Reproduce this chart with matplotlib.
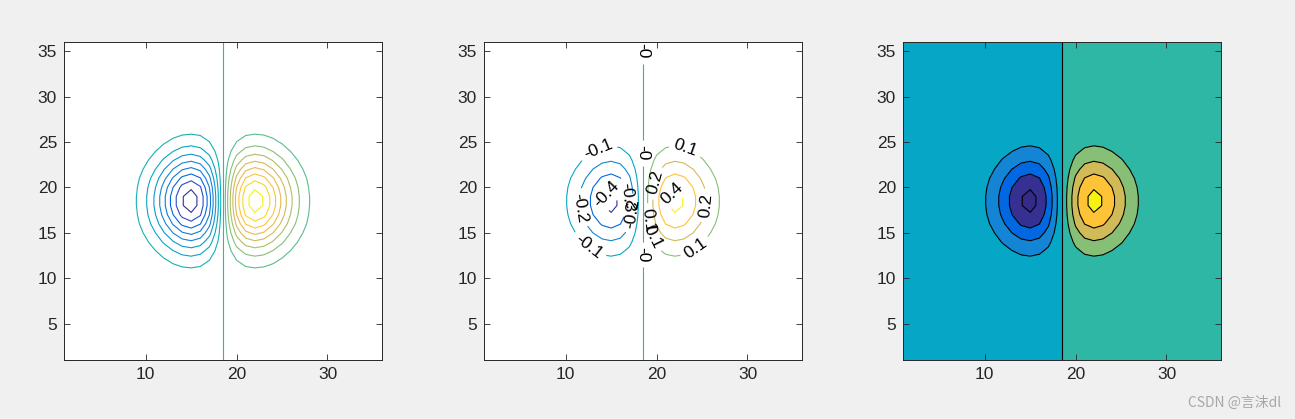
import numpy as np
import matplotlib.pyplot as plt
from matplotlib.colors import LinearSegmentedColormap, Normalize

# grid used for the surface (36 x 36 samples)
x_vals = np.linspace(-3.5, 3.5, 36)
y_vals = np.linspace(-3.5, 3.5, 36)
X, Y = np.meshgrid(x_vals, y_vals)
Z = X * np.exp(-X**2 - Y**2)
idx = np.arange(1, 37)

levels_fine = np.round(np.arange(-0.40, 0.401, 0.05), 2)
levels_coarse = np.round(np.arange(-0.4, 0.401, 0.1), 1)

# label positions picked off the middle panel
label_pos = [(13.6, 24.1), (12.4, 13.3), (11.4, 17.7), (14.7, 18.9), (16.2, 18.9),
             (17.4, 17.1), (18.5, 35.0), (18.5, 23.8), (18.3, 12.6),
             (19.9, 20.5), (21.8, 19.2), (19.3, 16.4), (19.3, 14.6),
             (23.0, 23.9), (24.3, 13.3), (25.7, 18.0)]

# matlab parula, 64 entries
parula_tab = [
    (0.2081, 0.1663, 0.5292), (0.2116, 0.1898, 0.5777), (0.2123, 0.2138, 0.6270), (0.2081, 0.2386, 0.6771),
    (0.1959, 0.2645, 0.7279), (0.1707, 0.2919, 0.7792), (0.1253, 0.3242, 0.8303), (0.0591, 0.3598, 0.8683),
    (0.0117, 0.3875, 0.8820), (0.0060, 0.4086, 0.8828), (0.0165, 0.4266, 0.8786), (0.0329, 0.4430, 0.8720),
    (0.0498, 0.4586, 0.8641), (0.0629, 0.4737, 0.8554), (0.0723, 0.4887, 0.8467), (0.0779, 0.5040, 0.8384),
    (0.0793, 0.5200, 0.8312), (0.0749, 0.5375, 0.8263), (0.0641, 0.5570, 0.8240), (0.0488, 0.5772, 0.8228),
    (0.0343, 0.5966, 0.8199), (0.0265, 0.6137, 0.8135), (0.0239, 0.6287, 0.8038), (0.0231, 0.6418, 0.7913),
    (0.0228, 0.6535, 0.7768), (0.0267, 0.6642, 0.7607), (0.0384, 0.6743, 0.7436), (0.0590, 0.6838, 0.7254),
    (0.0843, 0.6928, 0.7062), (0.1133, 0.7015, 0.6859), (0.1453, 0.7098, 0.6646), (0.1801, 0.7177, 0.6424),
    (0.2178, 0.7250, 0.6193), (0.2586, 0.7317, 0.5954), (0.3022, 0.7376, 0.5712), (0.3482, 0.7424, 0.5473),
    (0.3953, 0.7459, 0.5244), (0.4420, 0.7481, 0.5033), (0.4871, 0.7491, 0.4840), (0.5300, 0.7491, 0.4661),
    (0.5709, 0.7485, 0.4494), (0.6099, 0.7473, 0.4337), (0.6473, 0.7456, 0.4188), (0.6834, 0.7435, 0.4044),
    (0.7184, 0.7411, 0.3905), (0.7525, 0.7384, 0.3768), (0.7858, 0.7356, 0.3633), (0.8185, 0.7327, 0.3498),
    (0.8507, 0.7299, 0.3360), (0.8824, 0.7274, 0.3217), (0.9139, 0.7258, 0.3063), (0.9450, 0.7261, 0.2886),
    (0.9739, 0.7314, 0.2666), (0.9938, 0.7455, 0.2403), (0.9990, 0.7653, 0.2164), (0.9955, 0.7861, 0.1967),
    (0.9880, 0.8066, 0.1794), (0.9789, 0.8271, 0.1633), (0.9697, 0.8481, 0.1475), (0.9626, 0.8705, 0.1309),
    (0.9589, 0.8949, 0.1132), (0.9598, 0.9218, 0.0948), (0.9661, 0.9514, 0.0755), (0.9763, 0.9831, 0.0538)]
parula = LinearSegmentedColormap.from_list("parula", parula_tab, N=64)
norm = Normalize(vmin=Z.min(), vmax=Z.max())

plt.rcParams['font.family'] = ['Liberation Sans', 'DejaVu Sans']
plt.rcParams['contour.negative_linestyle'] = 'solid'
fig = plt.figure(figsize=(12.95, 4.19), dpi=100, facecolor='#f0f0f0')
lefts = [64, 484, 903]
axes = [fig.add_axes([l / 1295, 59 / 419, 318 / 1295, 318 / 419]) for l in lefts]

for ax in axes:
    ax.set_xlim(1, 36)
    ax.set_ylim(1, 36)
    ax.set_xticks([10, 20, 30])
    ax.set_yticks([5, 10, 15, 20, 25, 30, 35])
    ax.tick_params(direction='in', top=True, right=True, labelsize=12.5,
                   colors='#262626', length=4, width=0.6, pad=5)
    for s in ax.spines.values():
        s.set_color('#262626')
        s.set_linewidth(0.7)
    ax.set_facecolor('white')

# left: plain contour lines
axes[0].contour(idx, idx, Z, levels=levels_fine,
                colors=[parula(norm(v)) for v in levels_fine], linewidths=0.8)

# middle: labelled contour lines
cs = axes[1].contour(idx, idx, Z, levels=levels_coarse,
                     colors=[parula(norm(v)) for v in levels_coarse], linewidths=0.8)
axes[1].clabel(cs, manual=label_pos, inline=True, fontsize=12.5, fmt='%g', colors='black')

# right: filled contours
fill_levels = np.concatenate([[Z.min() - 1e-6], levels_coarse, [Z.max() + 1e-6]])
fill_colors = [parula(norm(v)) for v in np.concatenate([[Z.min()], levels_coarse])]
axes[2].contourf(idx, idx, Z, levels=fill_levels, colors=fill_colors)
axes[2].contour(idx, idx, Z, levels=levels_coarse, colors='black', linewidths=0.8)

fig.text(0.989, 0.022, 'CSDN @言沫dl', ha='right', va='bottom', fontsize=10,
         color='#a8a8a8', family=['Noto Sans CJK SC', 'DejaVu Sans'])

fig.savefig('out.png', dpi=100, facecolor=fig.get_facecolor())
